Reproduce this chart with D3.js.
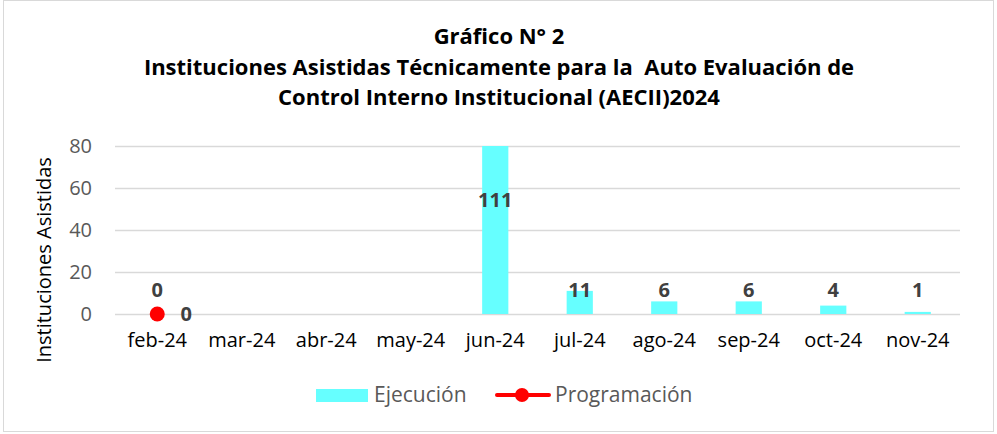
<!DOCTYPE html>
<html>
<head>
<meta charset="utf-8">
<script src="https://cdn.jsdelivr.net/npm/d3@7"></script>
<style>
  body { margin: 0; background: #fff; }
  svg { font-family: "Open Sans", Lato, sans-serif; }
</style>
</head>
<body>
<svg id="chart" width="997" height="434"></svg>
<script>
// datos del gráfico
const meses = ["feb-24", "mar-24", "abr-24", "may-24", "jun-24", "jul-24", "ago-24", "sep-24", "oct-24", "nov-24"];
const ejecucion = [0, null, null, null, 111, 11, 6, 6, 4, 1];
const programacion = [0, null, null, null, null, null, null, null, null, null];
const yTicks = [0, 20, 40, 60, 80];
const titulo = ["Gráfico N° 2",
  "Instituciones Asistidas Técnicamente para la  Auto Evaluación de",
  "Control Interno Institucional (AECII)2024"];

const svg = d3.select("#chart");
const margin = {left: 115, right: 37, top: 146, bottom: 120};
const width = 997 - margin.left - margin.right;
const height = 434 - margin.top - margin.bottom;

// marco
svg.append("rect")
  .attr("x", 3.5).attr("y", 0.5)
  .attr("width", 990).attr("height", 431)
  .attr("fill", "#fff").attr("stroke", "#d9d9d9");

// titulo
svg.append("g").selectAll("text")
  .data(titulo)
  .join("text")
  .attr("x", 499)
  .attr("y", (d, i) => [44, 75, 105][i])
  .attr("text-anchor", "middle")
  .attr("font-size", 22)
  .attr("font-weight", "bold")
  .attr("fill", "#000")
  .style("white-space", "pre")
  .text(d => d);

const x = d3.scaleBand().domain(meses).range([0, width]).paddingInner(0.69).paddingOuter(0.345);
const y = d3.scaleLinear().domain([0, 80]).range([height, 0]);

const g = svg.append("g").attr("transform", `translate(${margin.left},${margin.top})`);

// grilla
g.append("g").selectAll("line")
  .data(yTicks)
  .join("line")
  .attr("x1", 0).attr("x2", width)
  .attr("y1", d => y(d) + 0.5).attr("y2", d => y(d) + 0.5)
  .attr("stroke", "#d9d9d9").attr("stroke-width", 1.5);

// eje y
const yAxis = g.append("g").call(d3.axisLeft(y).tickValues(yTicks).tickSize(0).tickPadding(23));
yAxis.select(".domain").remove();
yAxis.selectAll("text").attr("font-size", 20).attr("fill", "#595959").attr("font-family", "Open Sans, sans-serif");

// eje x
const xAxis = g.append("g").attr("transform", `translate(0,${height})`)
  .call(d3.axisBottom(x).tickSize(0).tickPadding(19));
xAxis.select(".domain").remove();
xAxis.selectAll("text").attr("font-size", 20).attr("fill", "#000").attr("font-family", "Open Sans, sans-serif");

// titulo eje y
svg.append("text")
  .attr("transform", "translate(51,260) rotate(-90)")
  .attr("text-anchor", "middle")
  .attr("font-size", 20)
  .attr("fill", "#000")
  .text("Instituciones Asistidas");

// barras (recortadas en 80)
const barData = meses.map((m, i) => ({mes: m, v: ejecucion[i]})).filter(d => d.v !== null);
g.append("g").selectAll("rect")
  .data(barData)
  .join("rect")
  .attr("x", d => x(d.mes))
  .attr("width", x.bandwidth())
  .attr("y", d => y(Math.min(d.v, 80)))
  .attr("height", d => height - y(Math.min(d.v, 80)))
  .attr("fill", "#66ffff");

// etiquetas de barras
g.append("g").selectAll("text")
  .data(barData)
  .join("text")
  .attr("x", d => x(d.mes) + x.bandwidth() / 2)
  .attr("y", d => d.v > 80 ? y(80) + 61 : y(0) - 17)
  .attr("text-anchor", "middle")
  .attr("font-size", 20)
  .attr("font-weight", "bold")
  .attr("fill", "#404040")
  .text(d => d.v);

// programacion
const progData = meses.map((m, i) => ({mes: m, v: programacion[i]})).filter(d => d.v !== null);
const cx = d => x(d.mes) + x.bandwidth() / 2;
g.append("path")
  .datum(progData)
  .attr("fill", "none")
  .attr("stroke", "#ff0000")
  .attr("stroke-width", 4)
  .attr("d", d3.line().x(cx).y(d => y(d.v)));
g.append("g").selectAll("circle")
  .data(progData)
  .join("circle")
  .attr("cx", cx)
  .attr("cy", d => y(d.v))
  .attr("r", 7.5)
  .attr("fill", "#ff0000");
g.append("g").selectAll("text")
  .data(progData)
  .join("text")
  .attr("x", d => cx(d) + 29)
  .attr("y", d => y(d.v) + 7)
  .attr("text-anchor", "middle")
  .attr("font-size", 20)
  .attr("font-weight", "bold")
  .attr("fill", "#404040")
  .text(d => d.v);

// leyenda
const leg = svg.append("g");
leg.append("rect").attr("x", 316).attr("y", 389).attr("width", 52).attr("height", 13).attr("fill", "#66ffff");
leg.append("text").attr("x", 374).attr("y", 402).attr("font-size", 21).attr("fill", "#595959").text("Ejecución");
leg.append("line").attr("x1", 497).attr("x2", 549).attr("y1", 395).attr("y2", 395)
  .attr("stroke", "#ff0000").attr("stroke-width", 4).attr("stroke-linecap", "round");
leg.append("circle").attr("cx", 522).attr("cy", 395).attr("r", 7).attr("fill", "#ff0000");
leg.append("text").attr("x", 555).attr("y", 402).attr("font-size", 21).attr("fill", "#595959").text("Programación");
</script>
</body>
</html>
